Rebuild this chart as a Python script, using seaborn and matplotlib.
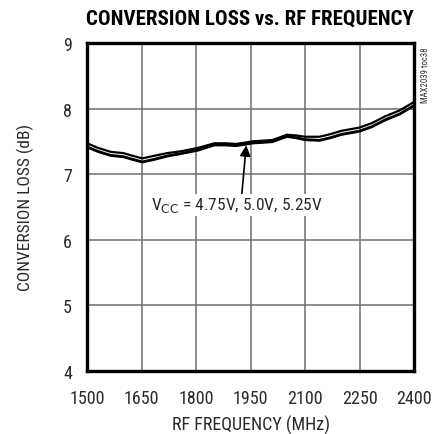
import os
import matplotlib
matplotlib.use("Agg")
import matplotlib.pyplot as plt
from matplotlib import font_manager
from matplotlib.font_manager import FontProperties
import matplotlib.patheffects as pe
import seaborn as sns
import pandas as pd

# RF frequency sweep (MHz) and conversion loss (dB) for each supply voltage
freq_mhz = [1500, 1530, 1565, 1600, 1625, 1652, 1685, 1720, 1760, 1805,
            1850, 1880, 1910, 1935, 1955, 1985, 2010, 2030, 2050, 2075,
            2100, 2140, 2170, 2200, 2250, 2285, 2320, 2360, 2400]
loss_525v = [7.47, 7.40, 7.34, 7.32, 7.28, 7.24, 7.28, 7.32, 7.35, 7.40,
             7.47, 7.47, 7.46, 7.48, 7.50, 7.51, 7.52, 7.56, 7.60, 7.59,
             7.57, 7.57, 7.61, 7.66, 7.71, 7.78, 7.88, 7.97, 8.10]
loss_500v = [7.42, 7.35, 7.29, 7.27, 7.23, 7.19, 7.23, 7.28, 7.32, 7.37,
             7.45, 7.45, 7.44, 7.46, 7.48, 7.49, 7.50, 7.54, 7.58, 7.56,
             7.53, 7.52, 7.56, 7.61, 7.66, 7.73, 7.83, 7.92, 8.05]
loss_475v = [7.41, 7.34, 7.28, 7.26, 7.22, 7.18, 7.22, 7.27, 7.31, 7.36,
             7.44, 7.44, 7.43, 7.45, 7.47, 7.48, 7.49, 7.53, 7.57, 7.55,
             7.52, 7.51, 7.55, 7.60, 7.65, 7.72, 7.82, 7.91, 8.04]
vcc_labels = ["4.75V", "5.0V", "5.25V"]

x_ticks = [1500, 1650, 1800, 1950, 2100, 2250, 2400]
y_ticks = [4, 5, 6, 7, 8, 9]

sns.set_theme(style="white")


def _weight(f):
    w = f.weight
    if isinstance(w, str):
        w = font_manager.weight_dict.get(w, 400)
    return w


def narrow_font(bold):
    """Find an installed condensed sans-serif face, regular or bold."""
    prefs = ["Liberation Sans Narrow", "Roboto Condensed", "Noto Sans",
             "Open Sans", "DejaVu Sans", "Roboto", "Lato", "Inter"]
    for fam in prefs:
        for f in font_manager.fontManager.ttflist:
            base = os.path.basename(f.fname)
            cond = ("Narrow" in f.name or "Condensed" in f.name
                    or "Condensed" in base or "Narrow" in base
                    or str(f.stretch) in ("condensed", "semi-condensed",
                                          "extra-condensed"))
            if not cond or not f.name.startswith(fam.split()[0]):
                continue
            if f.style != "normal":
                continue
            if any(k in base for k in ("Semi", "Extra", "Light", "Medium",
                                       "Black", "Thin", "Italic")):
                continue
            w = _weight(f)
            if bold and w >= 650:
                return FontProperties(fname=f.fname), f.name
            if not bold and 350 <= w <= 450:
                return FontProperties(fname=f.fname), f.name
    return None, None


fp_reg, reg_name = narrow_font(False)
fp_bold, bold_name = narrow_font(True)
if fp_reg is None:
    fp_reg, reg_name = FontProperties(family="Liberation Sans"), "Liberation Sans"
shrink = 1.0 if reg_name != "Liberation Sans" else 0.85
fake_bold = fp_bold is None
if fake_bold:
    fp_bold = fp_reg

plt.rcParams["font.family"] = [reg_name, "DejaVu Sans"]
plt.rcParams["mathtext.fontset"] = "custom"
plt.rcParams["mathtext.rm"] = reg_name

text_color = "#2a2a2a"


def fp(size, bold=False):
    p = (fp_bold if bold else fp_reg).copy()
    p.set_size(size)
    return p


df = pd.concat([
    pd.DataFrame({"freq": freq_mhz, "loss": vals, "vcc": lab})
    for lab, vals in zip(vcc_labels, [loss_475v, loss_500v, loss_525v])
])

fig = plt.figure(figsize=(4.40, 4.35), dpi=100)
ax = fig.add_axes([0.198, 0.145, 0.743, 0.754])

sns.lineplot(data=df, x="freq", y="loss", hue="vcc", units="vcc",
             estimator=None, palette=["black"] * 3, linewidth=1.6,
             legend=False, ax=ax, zorder=3)

ax.set_xlim(1500, 2400)
ax.set_ylim(4, 9)
ax.set_xticks(x_ticks)
ax.set_yticks(y_ticks)
ax.set_xticklabels([str(t) for t in x_ticks])
ax.set_yticklabels([str(t) for t in y_ticks])
tick_size = 13 * shrink
for lbl in ax.get_xticklabels() + ax.get_yticklabels():
    lbl.set_fontproperties(fp(tick_size))
    lbl.set_color(text_color)
ax.tick_params(axis="x", length=0, pad=13)
ax.tick_params(axis="y", length=0, pad=11)
ax.grid(True, color="#6e6e6e", linewidth=1.1)
for s in ax.spines.values():
    s.set_color("black")
    s.set_linewidth(2.4)

ax.set_xlabel("RF FREQUENCY (MHz)", fontproperties=fp(13 * shrink),
              color=text_color, labelpad=6)
ax.set_ylabel("CONVERSION LOSS (dB)", fontproperties=fp(12.5 * shrink),
              color=text_color, labelpad=21)

title = fig.text(0.568, 0.957, "CONVERSION LOSS vs. RF FREQUENCY", ha="center",
                 va="center", fontproperties=fp(15 * shrink, bold=True),
                 color="black")
if fake_bold:
    title.set_path_effects([pe.withStroke(linewidth=1.0, foreground="black")])
fig.text(0.967, 0.892, "MAX2039 toc38", rotation=90, ha="center", va="top",
         fontproperties=fp(6.3 * shrink), color="#333333")

ax.annotate("", xy=(1938, 7.44), xytext=(1925, 6.64),
            arrowprops=dict(arrowstyle="-|>", color="black", lw=1.2,
                            mutation_scale=16, shrinkA=0, shrinkB=0),
            zorder=4)
ax.text(1913, 6.53, r"V$_{\mathrm{CC}}$ = 4.75V, 5.0V, 5.25V", ha="center",
        va="center", fontproperties=fp(12.5 * shrink), color=text_color,
        bbox=dict(facecolor="white", edgecolor="none", pad=1.0), zorder=5)

fig.savefig("out.png", dpi=100)
